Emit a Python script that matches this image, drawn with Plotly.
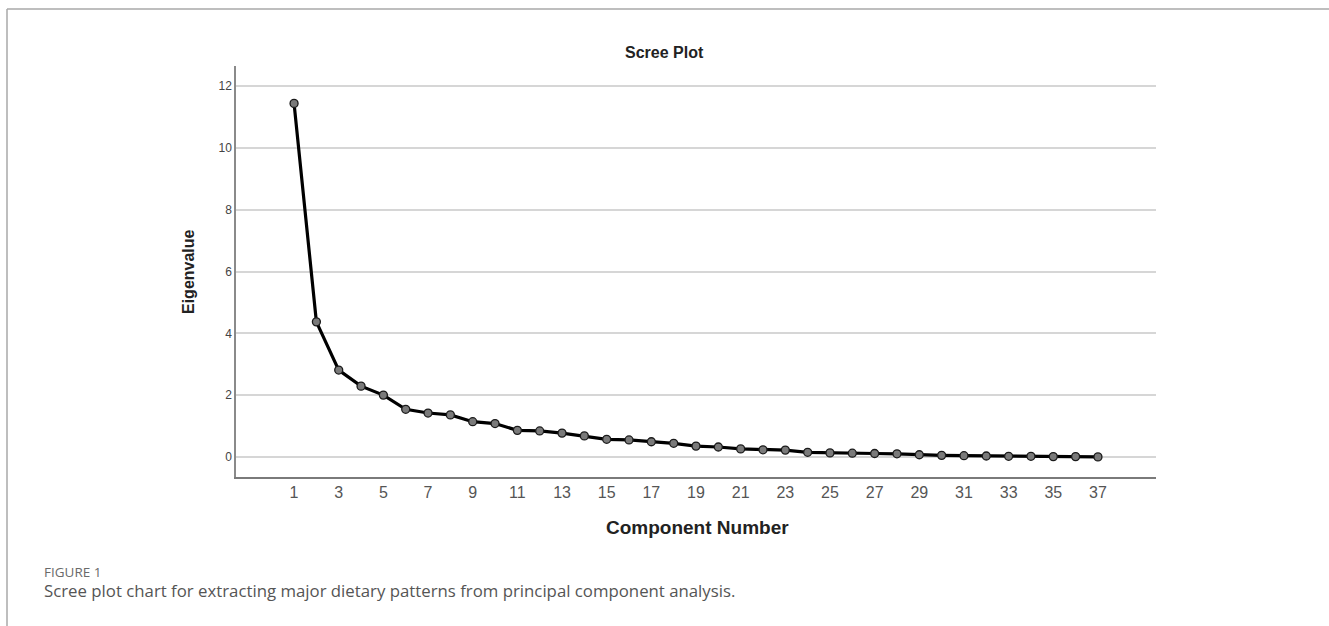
import plotly.graph_objects as go

components = list(range(1, 38))
eigenvalues = [11.44, 4.37, 2.81, 2.29, 2.00, 1.54, 1.42, 1.36, 1.14, 1.08,
               0.86, 0.84, 0.77, 0.68, 0.57, 0.55, 0.49, 0.44, 0.35, 0.32,
               0.26, 0.23, 0.22, 0.15, 0.13, 0.12, 0.11, 0.10, 0.07, 0.05,
               0.04, 0.03, 0.02, 0.02, 0.01, 0.01, 0.00]
x_ticks = list(range(1, 38, 2))
y_ticks = [0, 2, 4, 6, 8, 10, 12]

W, H = 1329, 626
L, R, T, B = 236, 1156, 66, 477


def px(x):
    return (x - L) / (R - L)


def py(y):
    return (B - y) / (B - T)


fig = go.Figure()
fig.add_trace(go.Scatter(
    x=components, y=eigenvalues, mode="lines+markers",
    line=dict(color="#000000", width=3.2),
    marker=dict(size=8, color="#7a7a7a", line=dict(color="#1a1a1a", width=1.3)),
    hoverinfo="x+y", showlegend=False,
))

fig.update_layout(
    width=W, height=H,
    margin=dict(l=L, r=W - R, t=T, b=H - B, pad=0),
    paper_bgcolor="white", plot_bgcolor="white",
    font=dict(family="Liberation Sans, Arial, sans-serif", color="#333"),
    xaxis=dict(
        range=[-1.6, 39.6], tickvals=x_ticks, ticktext=[str(v) for v in x_ticks],
        showgrid=False, zeroline=False, showline=True, linecolor="#7a7a7a", linewidth=1.5,
        ticks="", ticklen=0,
        tickfont=dict(family="Liberation Sans Narrow, Arial Narrow, sans-serif", size=16, color="#555"),
    ),
    yaxis=dict(
        range=[-0.65, 12.65], tickvals=y_ticks,
        showgrid=True, gridcolor="#d6d6d6", gridwidth=1.5,
        zeroline=False, showline=True, linecolor="#8a8a8a", linewidth=1.5,
        ticks="", tickfont=dict(size=12, color="#444"),
    ),
    showlegend=False,
)

annotations = [
    dict(text="<b>Scree Plot</b>", x=px(664), y=py(52), xref="paper", yref="paper",
         xanchor="center", yanchor="middle", showarrow=False,
         font=dict(family="Liberation Sans, Arial, sans-serif", size=16, color="#222")),
    dict(text="<b>Eigenvalue</b>", x=px(188), y=py(272), xref="paper", yref="paper",
         xanchor="center", yanchor="middle", textangle=-90, showarrow=False,
         font=dict(family="Liberation Sans, Arial, sans-serif", size=16, color="#222")),
    dict(text="<b>Component Number</b>", x=px(697), y=py(527), xref="paper", yref="paper",
         xanchor="center", yanchor="middle", showarrow=False,
         font=dict(family="Liberation Sans, Arial, sans-serif", size=19, color="#222")),
    dict(text="FIGURE 1", x=px(42), y=py(572), xref="paper", yref="paper",
         xanchor="left", yanchor="middle", showarrow=False,
         font=dict(family="Open Sans, sans-serif", size=13.5, color="#6a6a6a")),
    dict(text="Scree plot chart for extracting major dietary patterns from principal component analysis.",
         x=px(42), y=py(590), xref="paper", yref="paper",
         xanchor="left", yanchor="middle", showarrow=False,
         font=dict(family="Open Sans, sans-serif", size=16.8, color="#555555")),
]
fig.update_layout(annotations=annotations)

shapes = [
    dict(type="line", xref="paper", yref="paper", x0=px(7), x1=px(1329), y0=py(9), y1=py(9),
         line=dict(color="#a8a8a8", width=1.5)),
    dict(type="line", xref="paper", yref="paper", x0=px(7), x1=px(7), y0=py(9), y1=py(626),
         line=dict(color="#a8a8a8", width=1.5)),
]
fig.update_layout(shapes=shapes)

fig.write_html("out.html", config={"displayModeBar": False},
               post_script="document.body.style.margin='0px';document.body.style.overflow='hidden';")
